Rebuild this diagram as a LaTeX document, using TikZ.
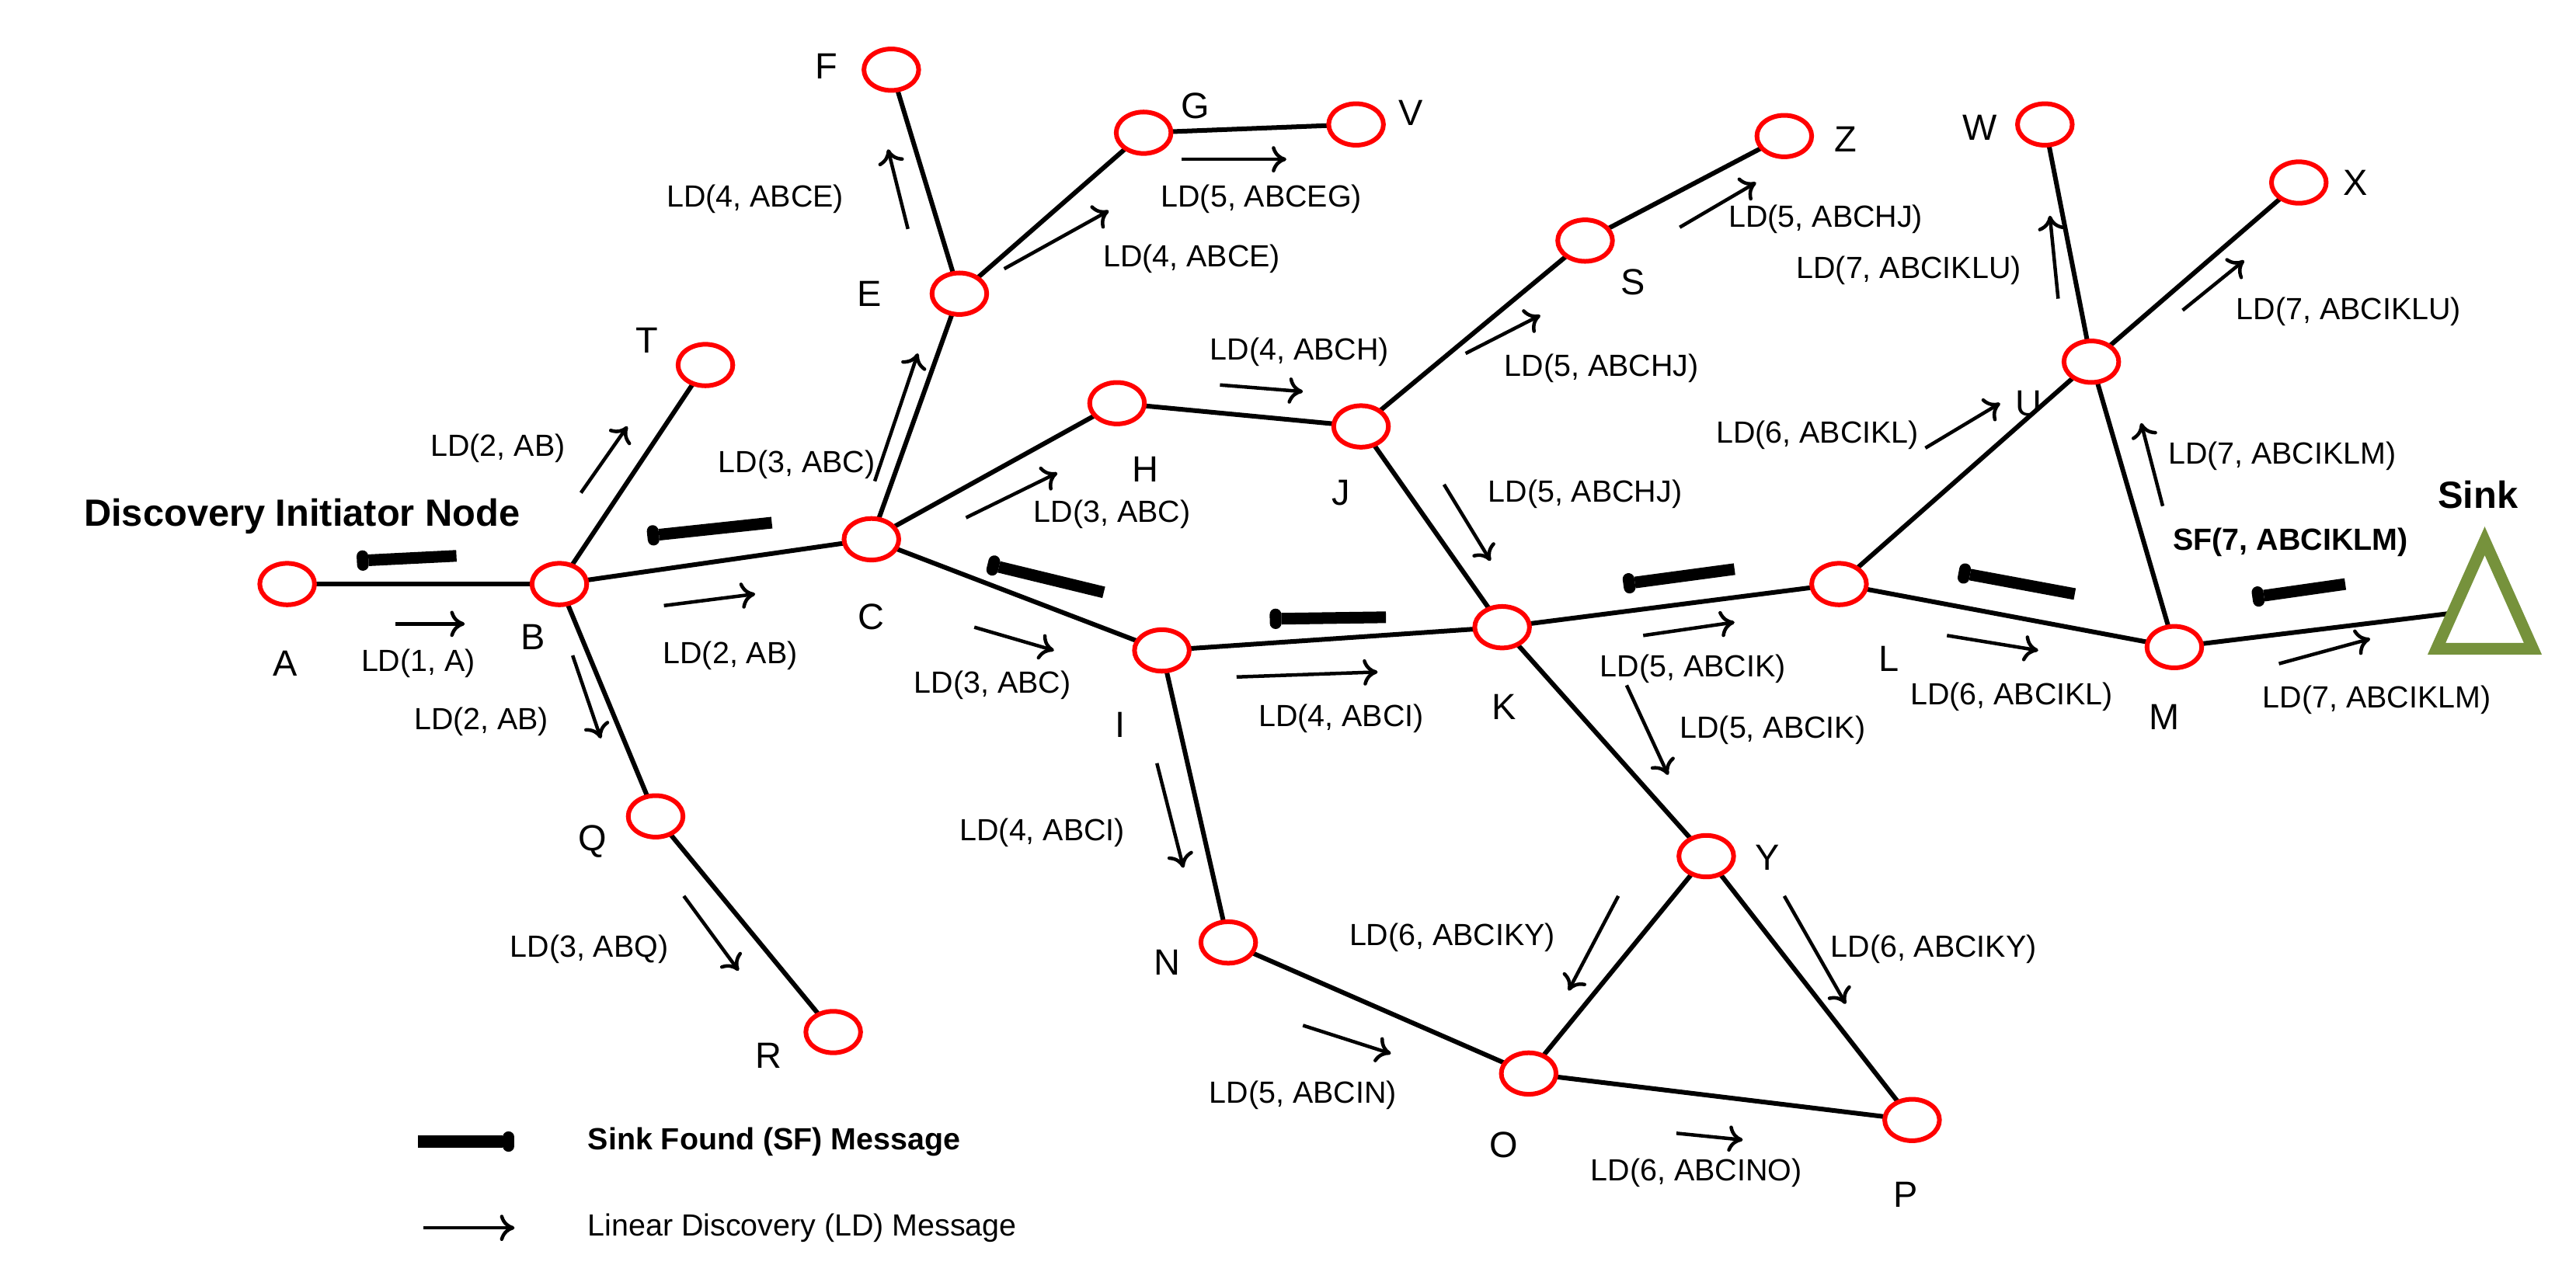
\documentclass[tikz,border=0pt]{standalone}
\usepackage{fontspec}
\setmainfont{Liberation Sans}
\usetikzlibrary{arrows.meta}
\begin{document}
\begin{tikzpicture}[x=0.02cm,y=-0.02cm,
  nd/.style={draw=red,line width=1.6pt,ellipse,minimum width=0.66cm,minimum height=0.5cm,inner sep=0pt,fill=white},
  edge/.style={line width=1.6pt},
  lb/.style={font=\fontsize{12.5}{14}\selectfont},
  tl/.style={font=\fontsize{10.5}{12}\selectfont},
  ldarr/.style={line width=1.2pt,-{To[length=5pt,width=9pt]}},
  sfarr/.style={line width=4pt,-{To[length=4pt,width=7pt]}}]
\useasboundingbox (0,0) rectangle (1552,775);
\usetikzlibrary{shapes.geometric}
% edges first (coordinates)
\foreach \n/\x/\y in {A/173/352,B/337/352,T/425/220,Q/395/492,R/502/622,C/525/325,E/578/177,F/537/42,G/689/80,V/817/75,H/673/243,J/820/257,S/955/145,Z/1075/82,I/700/392,K/905/378,L/1108/352,N/740/568,O/921/647,P/1152/675,Y/1028/516,M/1310/390,U/1260/218,W/1232/75,X/1385/110}
  {\coordinate (c\n) at (\x,\y);}
\coordinate (cSink) at (1490,368);
\foreach \a/\b in {A/B,B/T,B/C,B/Q,Q/R,C/E,E/F,E/G,G/V,C/H,H/J,J/S,S/Z,J/K,C/I,I/K,I/N,K/L,K/Y,Y/O,Y/P,N/O,O/P,L/U,L/M,U/W,U/X,U/M,M/Sink}
  {\draw[edge] (c\a) -- (c\b);}
\foreach \n in {A,B,T,Q,R,C,E,F,G,V,H,J,S,Z,I,K,L,N,O,P,Y,M,U,W,X}
  {\node[nd,ellipse] (\n) at (c\n) {};}
\draw[line width=4pt,draw={rgb,255:red,118;green,146;blue,60},fill=white,line join=miter] (1497,326) -- (1526,391) -- (1468,391) -- cycle;
\node (Sink) at (1497,360) {};
% letters
\foreach \t/\x/\y in {A/172/400,B/321/384,T/390/205,Q/357/507,R/463/636,C/525/372,E/524/177,F/498/40,G/720/64,V/850/68,H/690/283,J/808/297,S/984/170,Z/1112/84,I/675/437,K/906/426,L/1138/397,N/703/580,O/906/690,P/1148/720,Y/1065/517,M/1304/432,U/1222/243,W/1193/77,X/1419/110}
  {\node[lb] (l\t) at (\x,\y) {\t};}
% LD arrows
\foreach \xa/\ya/\xb/\yb/\lx/\ly/\txt in {
238/376/280/376/252/400/{LD(1, A)},
350/297/378/257/300/270/{LD(2, AB)},
400/365/455/358/440/395/{LD(2, AB)},
345/395/362/445/290/435/{LD(2, AB)},
412/540/445/585/355/572/{LD(3, ABQ)},
527/290/553/213/480/280/{LD(3, ABC)},
582/312/637/285/670/310/{LD(3, ABC)},
587/378/635/392/598/413/{LD(3, ABC)},
547/138/535/90/455/120/{LD(4, ABCE)},
605/162/668/127/718/156/{LD(4, ABCE)},
712/96/775/96/760/120/{LD(5, ABCEG)},
735/232/785/236/783/212/{LD(4, ABCH)},
883/213/928/190/965/222/{LD(5, ABCHJ)},
1012/137/1058/110/1100/132/{LD(5, ABCHJ)},
870/292/898/338/955/298/{LD(5, ABCHJ)},
745/408/830/405/808/433/{LD(4, ABCI)},
697/460/713/523/628/502/{LD(4, ABCI)},
990/383/1045/375/1020/403/{LD(5, ABCIK)},
980/413/1005/467/1068/440/{LD(5, ABCIK)},
975/540/945/597/875/565/{LD(6, ABCIKY)},
1075/540/1112/605/1165/572/{LD(6, ABCIKY)},
785/618/838/635/785/660/{LD(5, ABCIN)},
1010/683/1050/687/1022/707/{LD(6, ABCINO)},
1160/270/1205/243/1095/262/{LD(6, ABCIKL)},
1173/383/1228/392/1212/420/{LD(6, ABCIKL)},
1240/180/1235/130/1150/163/{LD(7, ABCIKLU)},
1315/187/1352/157/1415/188/{LD(7, ABCIKLU)},
1303/305/1290/255/1375/275/{LD(7, ABCIKLM)},
1373/400/1428/385/1432/422/{LD(7, ABCIKLM)}}
{\draw[ldarr] (\xa,\ya) -- (\xb,\yb); \node[tl] at (\lx,\ly) {\txt};}
% SF arrows
\foreach \xa/\ya/\xb/\yb in {1413/352/1357/360,1250/358/1180/345,1045/343/978/352,835/372/765/373,665/357/595/340,465/315/390/323,275/335/215/338}
{\draw[sfarr] (\xa,\ya) -- (\xb,\yb);}
\node[tl,font=\fontsize{10.5}{12}\selectfont\bfseries] at (1380,327) {SF(7, ABCIKLM)};
\node[font=\fontsize{13}{15}\selectfont\bfseries] at (1493,298) {Sink};
\node[font=\fontsize{13}{15}\selectfont\bfseries] at (182,311) {Discovery Initiator Node};
% legend
\draw[sfarr] (252,688) -- (310,688);
\node[tl,font=\fontsize{10.5}{12}\selectfont\bfseries,anchor=west] at (348,688) {Sink Found (SF) Message};
\draw[ldarr] (255,740) -- (310,740);
\node[tl,anchor=west] at (348,740) {Linear Discovery (LD) Message};
\end{tikzpicture}
\end{document}
